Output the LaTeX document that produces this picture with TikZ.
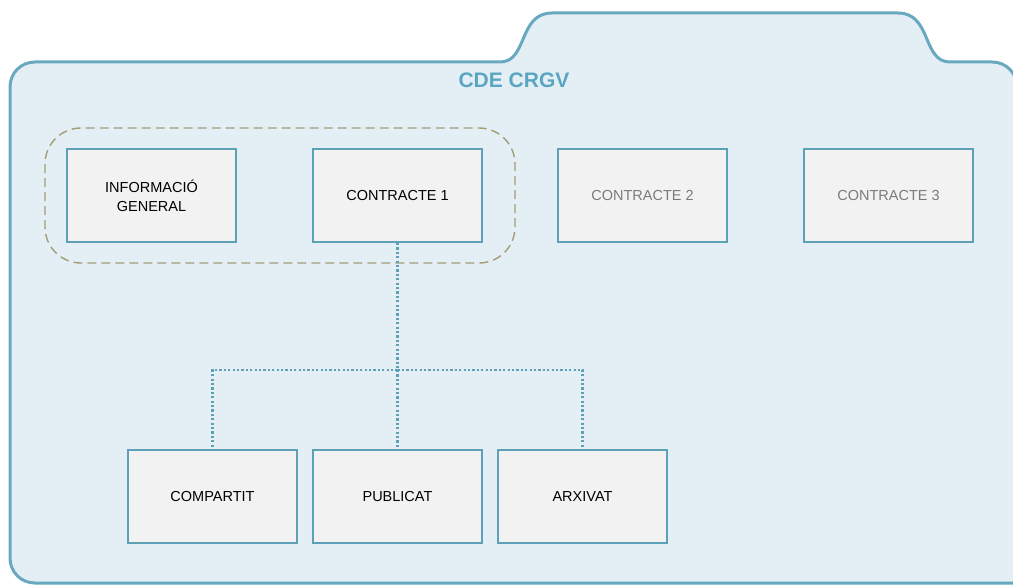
\documentclass[tikz,border=0pt]{standalone}
\usepackage{fontspec}
\setmainfont{Liberation Sans}

\definecolor{folderfill}{HTML}{E3EFF4}
\definecolor{folderline}{HTML}{68A9BF}
\definecolor{boxfill}{HTML}{F2F2F2}
\definecolor{boxline}{HTML}{5EA0B6}
\definecolor{groupline}{HTML}{A39D78}
\definecolor{titlecol}{HTML}{5AA6C2}
\definecolor{greytext}{HTML}{7A7A7A}

\tikzset{
  box/.style={rectangle, draw=boxline, fill=boxfill, line width=2pt,
    minimum width=169pt, minimum height=93pt, align=center,
    font=\fontsize{14.5pt}{19pt}\selectfont},
  link/.style={draw=boxline, line width=2.2pt, dash pattern=on 2.2pt off 2.2pt}
}

\begin{document}
\begin{tikzpicture}[x=1pt, y=-1pt]
    \useasboundingbox (0,0) rectangle (1013,586);

    % folder with the tab on top
    \draw[draw=folderline, fill=folderfill, line width=3pt]
      (10,87) .. controls (10,73) and (21,62) .. (35,62) -- (500,62)
      .. controls (528,62) and (518,13) .. (552,13) -- (898,13)
      .. controls (932,13) and (922,62) .. (950,62) -- (992,62)
      .. controls (1006,62) and (1017,73) .. (1017,87) -- (1017,583)
      -- (35,583) .. controls (21,583) and (10,572) .. (10,558) -- cycle;

    \node[font=\fontsize{21pt}{25pt}\selectfont\bfseries, text=titlecol](title) at (514,80){CDE CRGV};

    % group around the first two folders
    \draw[draw=groupline, line width=1.4pt, dash pattern=on 9pt off 5pt, rounded corners=36pt]
      (45,128) rectangle (515,263);

    \node[box](info) at (151.5,195.5){INFORMACIÓ\\GENERAL};
    \node[box](c1) at (397.5,195.5){CONTRACTE 1};
    \node[box, text=greytext](c2) at (642.5,195.5){CONTRACTE 2};
    \node[box, text=greytext](c3) at (888.5,195.5){CONTRACTE 3};

    \node[box](comp) at (212.5,496.5){COMPARTIT};
    \node[box](publ) at (397.5,496.5){PUBLICAT};
    \node[box](arx) at (582.5,496.5){ARXIVAT};

    \coordinate (split) at (397.5,370);
    \draw[link] (c1) -- (split);
    \draw[link] (split) -| (comp);
    \draw[link] (split) -- (publ);
    \draw[link] (split) -| (arx);
  \end{tikzpicture}
\end{document}
